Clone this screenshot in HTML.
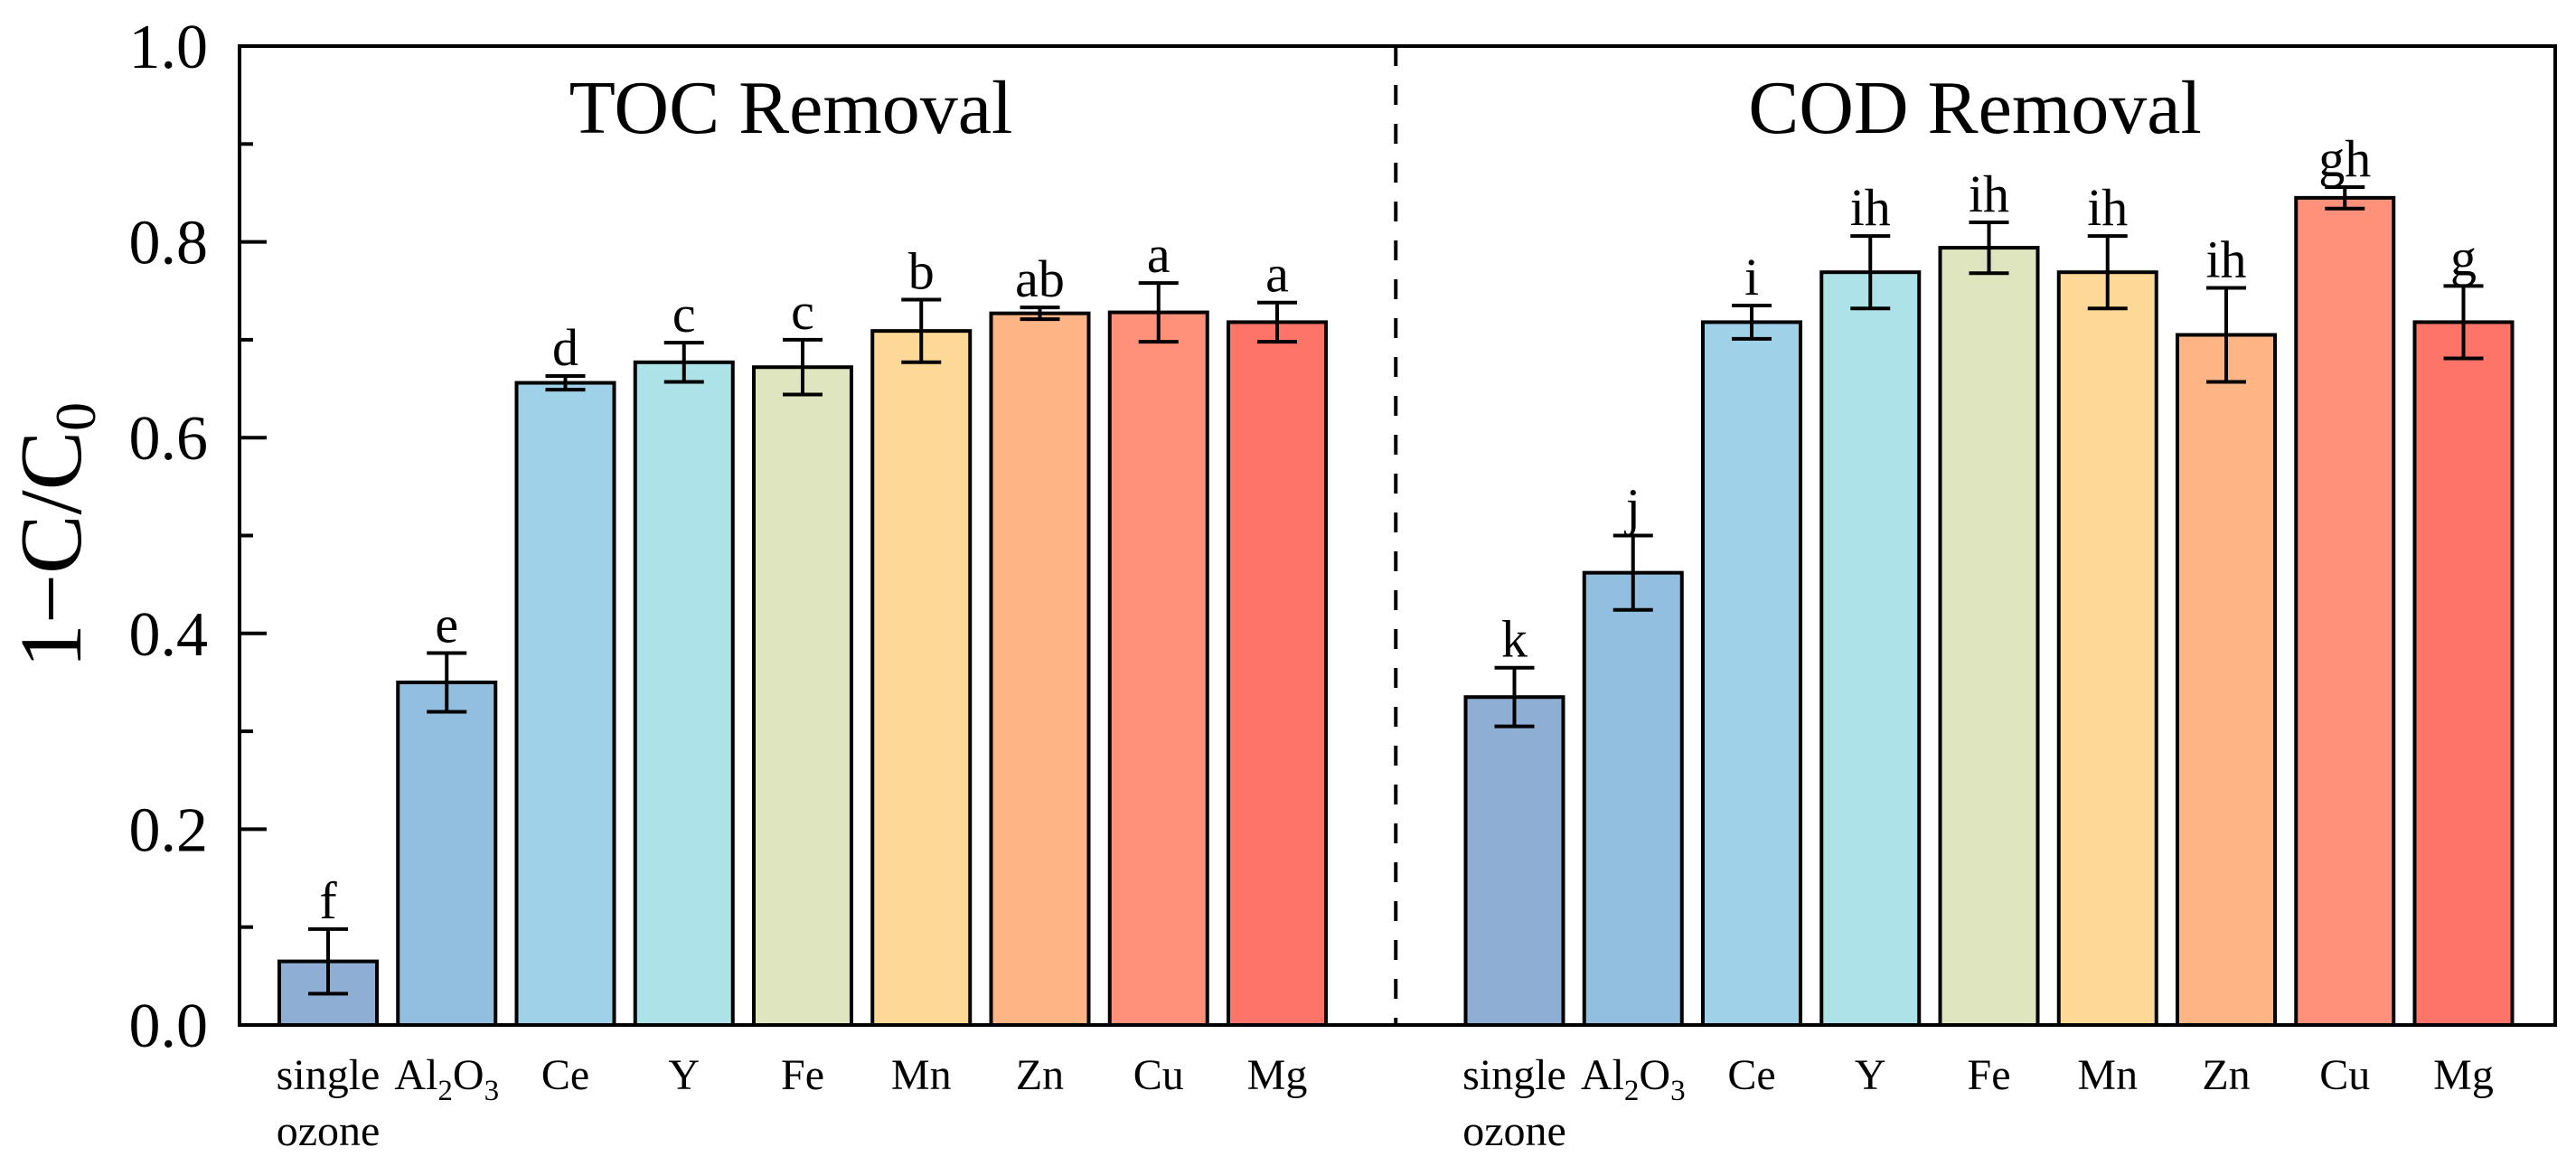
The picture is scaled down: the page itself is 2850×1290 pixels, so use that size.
<!DOCTYPE html>
<html><head><meta charset="utf-8"><style>
html,body{margin:0;padding:0;background:#fff}
svg{display:block}
text{font-family:"Liberation Serif",serif;fill:#000}
</style></head><body>
<svg id="chart" width="2850" height="1290" viewBox="0 0 2850 1290" xmlns="http://www.w3.org/2000/svg">
<g id="bars"></g>
<g id="axes"></g>
<text x="875" y="147" font-size="84" text-anchor="middle">TOC Removal</text>
<text x="2185" y="147" font-size="84" text-anchor="middle">COD Removal</text>
<text transform="translate(89,592) rotate(-90)" font-size="98" text-anchor="middle">1−C/C<tspan font-size="64" dy="16">0</tspan></text>
</svg>
<script>
const categories = ["single ozone","Al2O3","Ce","Y","Fe","Mn","Zn","Cu","Mg"];
const colors = ["#8eaed4","#92bfe0","#9fd1e8","#ade3e8","#dfe6bf","#fdd896","#fdb586","#ff9079","#ff7468"];
const tocValues = [0.065,0.350,0.656,0.677,0.672,0.709,0.727,0.728,0.718];
const tocErrors = [0.033,0.030,0.007,0.020,0.028,0.032,0.006,0.030,0.020];
const tocLetters = ["f","e","d","c","c","b","ab","a","a"];
const codValues = [0.335,0.462,0.718,0.769,0.794,0.769,0.705,0.845,0.718];
const codErrors = [0.030,0.038,0.017,0.037,0.026,0.037,0.048,0.011,0.037];
const codLetters = ["k","j","i","ih","ih","ih","ih","gh","g"];
const yTicks = [0,0.2,0.4,0.6,0.8,1.0];
const yTickLabels = ["0.0","0.2","0.4","0.6","0.8","1.0"];

const NS="http://www.w3.org/2000/svg";
const X0=265, X1=2827, Y0=1134, Y1=51;
function y(v){return Y0-(Y0-Y1)*v;}
function x(slot){return 363+131.25*slot;}
function mk(tag,attrs,parent){const e=document.createElementNS(NS,tag);for(const k in attrs)e.setAttribute(k,attrs[k]);parent.appendChild(e);return e;}
const bars=document.getElementById('bars'), axes=document.getElementById('axes');
const BW=108;
function drawGroup(values,errors,letters,offset,prefix){
  values.forEach((v,i)=>{
    const cx=x(i+offset);
    const r=mk('rect',{x:cx-BW/2,y:y(v),width:BW,height:y(0)-y(v),fill:colors[i],stroke:'#000','stroke-width':4},bars);
    
    
    const e=errors[i];
    const eb=mk('path',{d:`M${cx},${y(v+e)}V${y(v-e)}M${cx-22},${y(v+e)}H${cx+22}M${cx-22},${y(v-e)}H${cx+22}`,stroke:'#000','stroke-width':4,fill:'none'},bars);
    
    
    const t=mk('text',{x:cx,y:y(v+e)-12,'font-size':58,'text-anchor':'middle'},bars);
    t.textContent=letters[i];
    
    
    const lab=mk('text',{x:cx,y:1205,'font-size':48,'text-anchor':'middle'},axes);
    
    
    const c=categories[i];
    if(c==="single ozone"){
      lab.textContent="single";
      const l2=mk('text',{x:cx,y:1267,'font-size':48,'text-anchor':'middle'},axes);
      l2.textContent="ozone";
      
      
    } else if(c==="Al2O3"){
      lab.innerHTML='Al<tspan font-size="33" dy="12">2</tspan><tspan dy="-12">O</tspan><tspan font-size="33" dy="12">3</tspan>';
    } else lab.textContent=c;
  });
}
drawGroup(tocValues,tocErrors,tocLetters,0,'toc');
drawGroup(codValues,codErrors,codLetters,10,'cod');
const fr=mk('rect',{x:X0,y:Y1,width:X1-X0,height:Y0-Y1,fill:'none',stroke:'#000','stroke-width':4},axes);


const dl=mk('line',{x1:x(9),x2:x(9),y1:Y1,y2:Y0,stroke:'#000','stroke-width':4,'stroke-dasharray':'22 21'},axes);


yTicks.forEach((t,i)=>{
  const tk=mk('line',{x1:X0,x2:X0+30,y1:y(t),y2:y(t),stroke:'#000','stroke-width':4},axes);
  
  
  const lb=mk('text',{x:230,y:y(t)+24,'font-size':70,'text-anchor':'end'},axes);
  lb.textContent=yTickLabels[i];
  
  
  if(i<yTicks.length-1){
    const mt=(t+yTicks[i+1])/2;
    const m=mk('line',{x1:X0,x2:X0+15,y1:y(mt),y2:y(mt),stroke:'#000','stroke-width':4},axes);
    
    
  }
});
</script>
</body></html>
